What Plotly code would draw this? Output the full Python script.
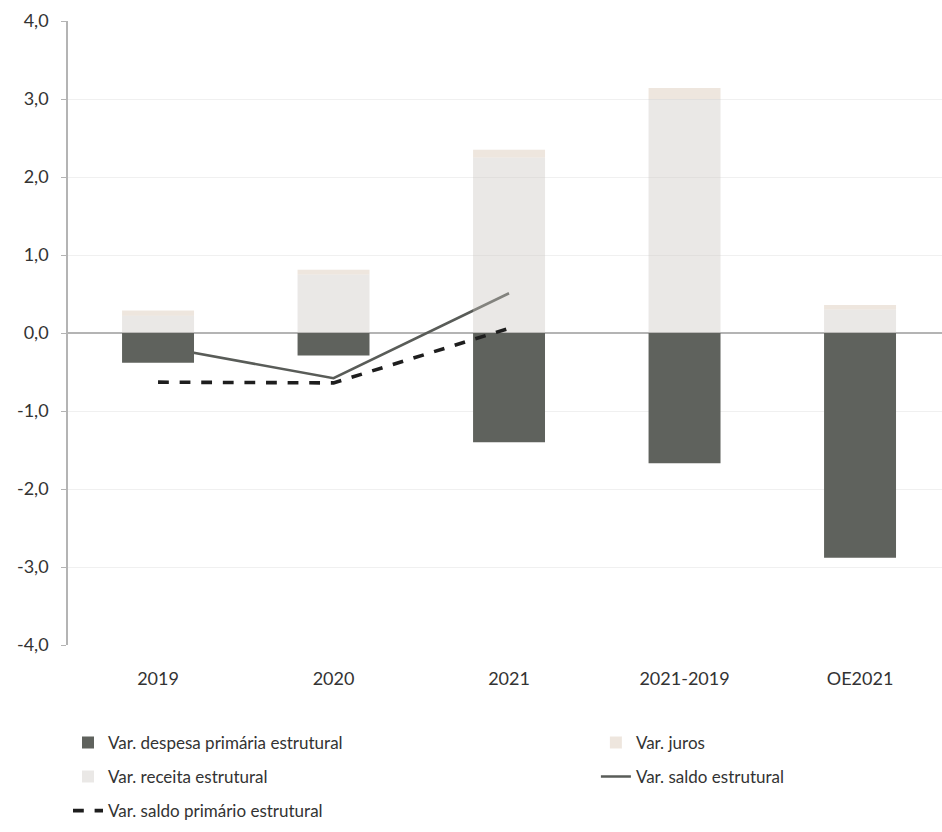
import plotly.graph_objects as go

# Categories and series (p.p. do PIB)
categorias = ["2019", "2020", "2021", "2021-2019", "OE2021"]
despesa_primaria = [-0.38, -0.29, -1.40, -1.67, -2.88]
receita_estrutural = [0.22, 0.75, 2.25, 3.00, 0.30]
juros = [0.07, 0.06, 0.10, 0.14, 0.06]
saldo_estrutural_cat = ["2019", "2020", "2021"]
saldo_estrutural = [-0.17, -0.58, 0.51]
saldo_primario_cat = ["2019", "2020", "2021"]
saldo_primario = [-0.63, -0.64, 0.06]

ytick_vals = [-4, -3, -2, -1, 0, 1, 2, 3, 4]
ytick_text = ["-4,0", "-3,0", "-2,0", "-1,0", "0,0", "1,0", "2,0", "3,0", "4,0"]

FONT = "Lato"
TXT = "#333333"
DARK = "#5f625d"

fig = go.Figure()

# solid line sits beneath the bars (primary axis)
fig.add_trace(go.Scatter(
    x=saldo_estrutural_cat, y=saldo_estrutural, name="Var. saldo estrutural",
    mode="lines", line=dict(color="#595c58", width=2.6),
    legend="legend2", legendgroup="g4", legendrank=2, yaxis="y",
))

# bars on an overlaying axis so they cover the solid line
fig.add_trace(go.Bar(
    x=categorias, y=despesa_primaria, name="Var. despesa primária estrutural",
    marker=dict(color=DARK, line=dict(width=0)), width=0.41,
    legend="legend", legendgroup="g1", legendrank=1, yaxis="y2",
))
fig.add_trace(go.Bar(
    x=categorias, y=receita_estrutural, name="Var. receita estrutural",
    marker=dict(color="rgba(200,194,188,0.38)", line=dict(width=0)), width=0.41,
    legend="legend", legendgroup="g2", legendrank=2, yaxis="y2",
))
fig.add_trace(go.Bar(
    x=categorias, y=juros, name="Var. juros",
    marker=dict(color="rgba(214,196,176,0.42)", line=dict(width=0)), width=0.41,
    legend="legend2", legendgroup="g3", legendrank=1, yaxis="y2",
))
fig.add_trace(go.Scatter(
    x=saldo_primario_cat, y=saldo_primario, name="Var. saldo primário estrutural",
    mode="lines", line=dict(color="#1e1e1e", width=3.6, dash="dash"),
    legend="legend", legendgroup="g5", legendrank=3, yaxis="y2",
))

fig.update_layout(
    width=942, height=832,
    margin=dict(l=68, r=0, t=21, b=187),
    paper_bgcolor="white", plot_bgcolor="white",
    barmode="relative",
    font=dict(family=FONT, color=TXT, size=17),
    showlegend=True,
    xaxis=dict(
        type="category", categoryorder="array", categoryarray=categorias,
        range=[-0.513, 4.467], showgrid=False, showline=False, zeroline=False,
        ticks="", tickfont=dict(size=18, color=TXT), ticklabelstandoff=21,
    ),
    yaxis=dict(
        range=[-4, 4], tickvals=ytick_vals, ticktext=ytick_text,
        showgrid=True, gridcolor="#f0f0f0", gridwidth=1,
        zeroline=True, zerolinecolor="#b4b4b4", zerolinewidth=1.5,
        showline=True, linecolor="#b4b4b4", linewidth=1.5,
        ticks="outside", ticklen=5, tickcolor="#b4b4b4",
        tickfont=dict(size=18, color=TXT), ticklabelstandoff=9,
        fixedrange=True,
    ),
    yaxis2=dict(
        overlaying="y", matches="y", visible=False, showgrid=False, zeroline=False,
    ),
    legend=dict(
        orientation="v", x=0.0, xanchor="left", y=-0.128, yanchor="top",
        font=dict(size=17, color=TXT), tracegroupgap=9, bgcolor="rgba(0,0,0,0)",
        traceorder="grouped",
    ),
    legend2=dict(
        orientation="v", x=0.604, xanchor="left", y=-0.128, yanchor="top",
        font=dict(size=17, color=TXT), tracegroupgap=9, bgcolor="rgba(0,0,0,0)",
        traceorder="grouped",
    ),
)

fig.write_html("out.html")
